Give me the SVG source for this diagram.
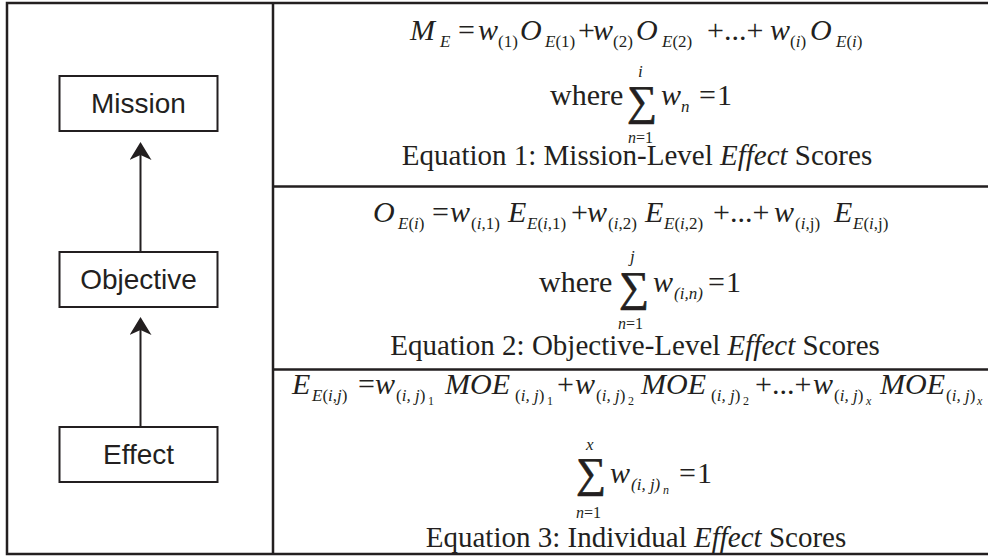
<svg xmlns="http://www.w3.org/2000/svg" width="988" height="556" viewBox="0 0 988 556">
<defs>
<style>
.frame{fill:none;stroke:#231f20;stroke-width:2.5}
.box{fill:#fff;stroke:#231f20;stroke-width:2}
.lbl{font-family:"Liberation Sans",Arial,sans-serif;font-size:28px;fill:#231f20;text-anchor:middle}
.conn{stroke:#231f20;stroke-width:2;fill:none}
text.e{font-family:"Liberation Serif","Times New Roman",serif;fill:#231f20}
.mi{font-size:30px;font-style:italic}
.mr{font-size:30px}
.si{font-size:17px;font-style:italic}
.sr{font-size:17px}
.ss{font-size:12px}
.sg{font-size:42px;stroke:#231f20;stroke-width:0.7}
.lim{font-size:16px}
.cap{font-size:29px;text-anchor:middle}
.it{font-style:italic}
</style>
<marker id="ah" markerUnits="userSpaceOnUse" markerWidth="18" markerHeight="22" refX="5" refY="11" orient="auto" viewBox="0 0 18 22">
<path d="M18,11 L0,0 L5,11 L0,22 Z" fill="#231f20"/>
</marker>
</defs>
<rect width="988" height="556" fill="#fff"/>
<g id="table">
<path class="frame" d="M992,3 H7 V554 H992"/>
<path class="frame" d="M273,3 V554 M273,186.5 H992 M273,369.5 H992"/>
</g>
<g id="connectors">
<line class="conn" x1="140.5" y1="252" x2="140.5" y2="155" marker-end="url(#ah)"/>
<line class="conn" x1="140.5" y1="427" x2="140.5" y2="330" marker-end="url(#ah)"/>
</g>
<g id="mission">
<rect class="box" x="59.5" y="76" width="158" height="55"/>
<text class="lbl" x="138.5" y="113">Mission</text>
</g>
<g id="objective">
<rect class="box" x="59.5" y="252" width="158" height="55"/>
<text class="lbl" x="138.5" y="289">Objective</text>
</g>
<g id="effect">
<rect class="box" x="59.5" y="427" width="158" height="55"/>
<text class="lbl" x="138.5" y="464">Effect</text>
</g>
<g id="equation1">
<text class="e mi" x="410" y="40">M</text>
<text class="e si" x="440" y="47">E</text>
<text class="e mr" x="458" y="40">=</text>
<text class="e mi" x="478" y="40">w</text>
<text class="e sr" x="498" y="47">(1)</text>
<text class="e mi" x="520" y="40">O</text>
<text class="e sr" x="545" y="47"><tspan class="it">E</tspan>(1)</text>
<text class="e mr" x="578" y="40">+</text>
<text class="e mi" x="593" y="40">w</text>
<text class="e sr" x="613" y="47">(2)</text>
<text class="e mi" x="636" y="40">O</text>
<text class="e sr" x="662" y="47"><tspan class="it">E</tspan>(2)</text>
<text class="e mr" x="707" y="40">+...+</text>
<text class="e mi" x="770" y="40">w</text>
<text class="e sr" x="790" y="47">(<tspan class="it">i</tspan>)</text>
<text class="e mi" x="810" y="40">O</text>
<text class="e sr" x="836" y="47"><tspan class="it">E</tspan>(<tspan class="it">i</tspan>)</text>
<text class="e mr" x="550" y="105">where</text>
<text class="e sg" x="627" y="115">∑</text>
<text class="e si" x="638" y="77">i</text>
<text class="e lim" x="628" y="143"><tspan class="it">n</tspan>=1</text>
<text class="e mi" x="661" y="105">w</text>
<text class="e si" x="681" y="112">n</text>
<text class="e mr" x="699" y="105">=</text>
<text class="e mr" x="717" y="105">1</text>
<text class="e cap" x="637" y="165">Equation 1: Mission-Level <tspan class="it">Effect</tspan> Scores</text>
</g>
<g id="equation2">
<text class="e mi" x="373" y="222">O</text>
<text class="e sr" x="398" y="229"><tspan class="it">E</tspan>(<tspan class="it">i</tspan>)</text>
<text class="e mr" x="432" y="222">=</text>
<text class="e mi" x="450" y="222">w</text>
<text class="e sr" x="471" y="229">(<tspan class="it">i</tspan>,1)</text>
<text class="e mi" x="508" y="222">E</text>
<text class="e sr" x="527" y="229"><tspan class="it">E</tspan>(<tspan class="it">i</tspan>,1)</text>
<text class="e mr" x="571" y="222">+</text>
<text class="e mi" x="587" y="222">w</text>
<text class="e sr" x="608" y="229">(<tspan class="it">i</tspan>,2)</text>
<text class="e mi" x="645" y="222">E</text>
<text class="e sr" x="664" y="229"><tspan class="it">E</tspan>(<tspan class="it">i</tspan>,2)</text>
<text class="e mr" x="713" y="222">+...+</text>
<text class="e mi" x="774" y="222">w</text>
<text class="e sr" x="795" y="229">(<tspan class="it">i</tspan>,j)</text>
<text class="e mi" x="834" y="222">E</text>
<text class="e sr" x="853" y="229"><tspan class="it">E</tspan>(<tspan class="it">i</tspan>,j)</text>
<text class="e mr" x="539" y="292">where</text>
<text class="e sg" x="619" y="301">∑</text>
<text class="e si" x="630" y="262">j</text>
<text class="e lim" x="618" y="329"><tspan class="it">n</tspan>=1</text>
<text class="e mi" x="653" y="292">w</text>
<text class="e si" x="674" y="299">(i,n)</text>
<text class="e mr" x="708" y="292">=</text>
<text class="e mr" x="726" y="292">1</text>
<text class="e cap" x="635" y="355">Equation 2: Objective-Level <tspan class="it">Effect</tspan> Scores</text>
</g>
<g id="equation3">
<text class="e mi" x="292" y="394">E</text>
<text class="e sr" x="312" y="401"><tspan class="it">E</tspan>(<tspan class="it">i</tspan>,<tspan class="it">j</tspan>)</text>
<text class="e mr" x="358" y="394">=</text>
<text class="e mi" x="375" y="394">w</text>
<text class="e sr" x="396" y="401">(<tspan class="it">i, j</tspan>)</text>
<text class="e ss" x="428" y="405">1</text>
<text class="e mi" x="445" y="394">MOE</text>
<text class="e sr" x="515" y="401">(<tspan class="it">i, j</tspan>)</text>
<text class="e ss" x="547" y="405">1</text>
<text class="e mr" x="557" y="394">+</text>
<text class="e mi" x="575" y="394">w</text>
<text class="e sr" x="596" y="401">(<tspan class="it">i, j</tspan>)</text>
<text class="e ss" x="628" y="405">2</text>
<text class="e mi" x="641" y="394">MOE</text>
<text class="e sr" x="711" y="401">(<tspan class="it">i, j</tspan>)</text>
<text class="e ss" x="743" y="405">2</text>
<text class="e mr" x="755" y="394">+...+</text>
<text class="e mi" x="813" y="394">w</text>
<text class="e sr" x="834" y="401">(<tspan class="it">i, j</tspan>)</text>
<text class="e ss it" x="866" y="405">x</text>
<text class="e mi" x="880" y="394">MOE</text>
<text class="e sr" x="946" y="401">(<tspan class="it">i, j</tspan>)</text>
<text class="e ss it" x="977" y="405">x</text>
<text class="e sg" x="576" y="487">∑</text>
<text class="e si" x="586" y="450">x</text>
<text class="e lim" x="576" y="518"><tspan class="it">n</tspan>=1</text>
<text class="e mi" x="610" y="483">w</text>
<text class="e si" x="631" y="490">(i, j)</text>
<text class="e ss it" x="663" y="494">n</text>
<text class="e mr" x="679" y="483">=</text>
<text class="e mr" x="697" y="483">1</text>
<text class="e cap" x="636" y="547">Equation 3: Individual <tspan class="it">Effect</tspan> Scores</text>
</g>
</svg>
